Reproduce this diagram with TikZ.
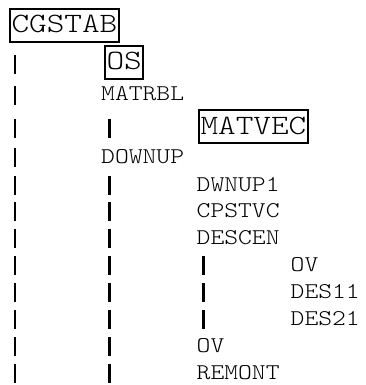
\documentclass[tikz,border=0pt]{standalone}
\usepackage{fontspec}
\newfontfamily\courfont[FakeStretch=1.17]{lmmonolt10-regular.otf}
\newfontfamily\courboxfont[FakeStretch=1.2]{lmmonolt10-regular.otf}
\tikzset{
  boxname/.style={draw=black, line width=2pt, anchor=base west, inner xsep=1.5pt, inner ysep=0pt,
     text height=24pt, text depth=9pt, font=\courboxfont\fontsize{28}{30}\selectfont, text=black},
  callname/.style={anchor=base west, inner sep=0pt, font=\courfont\fontsize{22.5}{27}\selectfont, text=black},
  pipeline/.style={line width=2.6pt, black}
}
\newcommand{\pipemark}[2]{\draw[pipeline] (#1,#2-15) -- (#1,#2+4);}
\begin{document}
\begin{tikzpicture}[x=1pt,y=-1pt]
\useasboundingbox (0,0) rectangle (365,385);
% boxed routines
\node[boxname] (cgstab) at (9,33) {CGSTAB};
\node[boxname] (os) at (104,70) {OS};
\node[boxname] (matvec) at (198,134) {MATVEC};
% plain routines
\node[callname] (matrbl) at (101,101) {MATRBL};
\node[callname] (downup) at (101,163) {DOWNUP};
\node[callname] (dwnup1) at (196.5,191) {DWNUP1};
\node[callname] (cpstvc) at (196.5,217) {CPSTVC};
\node[callname] (descen) at (196.5,244) {DESCEN};
\node[callname] (ov1) at (290.5,271) {OV};
\node[callname] (des11) at (290.5,298) {DES11};
\node[callname] (des21) at (290.5,325) {DES21};
\node[callname] (ov2) at (196.5,352) {OV};
\node[callname] (remont) at (196.5,379) {REMONT};
% column 0 bars
\foreach \b in {70,101,134,163,191,217,244,271,298,325,352,379} {\pipemark{15}{\b}}
% column 1 bars
\foreach \b in {134,191,217,244,271,298,325,352,379} {\pipemark{109.5}{\b}}
% column 2 bars
\foreach \b in {271,298,325} {\pipemark{203.5}{\b}}
\end{tikzpicture}
\end{document}
